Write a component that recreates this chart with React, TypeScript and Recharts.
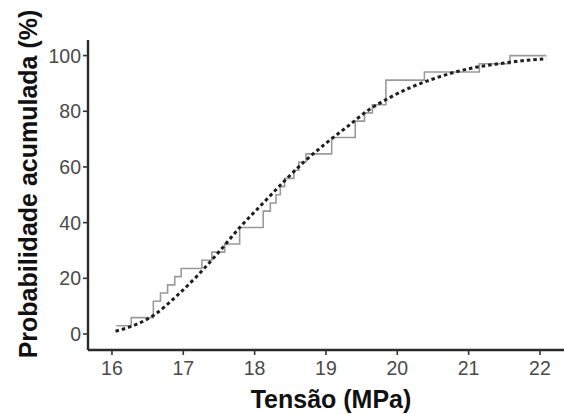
import React from 'react';
import { LineChart, Line, XAxis, YAxis, Label } from 'recharts';

// Tick labels
const xTicks = [16, 17, 18, 19, 20, 21, 22];
const yTicks = [0, 20, 40, 60, 80, 100];

// Empirical cumulative distribution (grey steps)
const ecdfX = [16.06, 16.27, 16.58, 16.68, 16.78, 16.88, 16.97, 17.26, 17.4, 17.58, 17.79, 18.12, 18.22, 18.3, 18.36, 18.42, 18.55, 18.62, 18.72, 19.08, 19.41, 19.54, 19.65, 19.84, 20.38, 21.15, 21.58, 22.09];
const ecdfY = [2.94, 5.88, 11.76, 14.71, 17.65, 20.59, 23.53, 26.47, 29.41, 32.35, 38.24, 44.12, 47.06, 50, 52.94, 55.88, 58.82, 61.76, 64.71, 70.59, 76.47, 79.41, 82.35, 91.18, 94.12, 97.06, 100, 100];

// Fitted cumulative curve (dotted black)
const fitX = [16.05, 16.3, 16.6, 16.9, 17.2, 17.5, 17.8, 18.1, 18.4, 18.7, 19.0, 19.3, 19.6, 19.9, 20.2, 20.5, 20.8, 21.1, 21.4, 21.7, 22.09];
const fitY = [1.0, 3.0, 7.0, 13.5, 21.0, 29.5, 38.5, 46.5, 54.5, 62.0, 68.5, 74.5, 80.5, 85.0, 88.7, 91.6, 94.0, 95.8, 97.0, 98.0, 98.9];

const ecdfData = ecdfX.map((x, i) => ({ x, y: ecdfY[i] }));
const fitData = fitX.map((x, i) => ({ x, y: fitY[i] }));

const xDomain: [number, number] = [15.664, 22.337];
const yDomain: [number, number] = [-5.75, 105.6];

const FONT = '"Liberation Sans", Arial, Helvetica, sans-serif';

export default function App() {
  return (
    <div style={{ position: 'absolute', left: 0, top: 0, width: 564, height: 414, background: '#fff' }}>
      <LineChart width={564} height={414} margin={{ top: 40, right: 0, bottom: 0, left: 0 }}>
        <XAxis
          dataKey="x"
          type="number"
          domain={xDomain}
          ticks={xTicks}
          allowDataOverflow
          height={64}
          axisLine={{ stroke: '#2a2a2a', strokeWidth: 2.4 }}
          tickLine={{ stroke: '#333', strokeWidth: 1.6 }}
          tickSize={5}
          tickMargin={6}
          tick={{ fill: '#4a4a4a', fontSize: 19.5, fontFamily: FONT }}
        >
          <Label
            content={({ viewBox }: any) => (
              <text
                x={viewBox.x + viewBox.width / 2 + 5}
                y={viewBox.y + 49}
                textAnchor="middle"
                dominantBaseline="central"
                fontFamily={FONT}
                fontWeight="bold"
                fontSize={25}
                fill="#111"
              >
                Tensão (MPa)
              </text>
            )}
          />
        </XAxis>
        <XAxis
          xAxisId="top"
          orientation="top"
          type="number"
          domain={xDomain}
          height={0}
          tick={false}
          tickLine={false}
          axisLine={{ stroke: '#2a2a2a', strokeWidth: 2.4 }}
        />
        <YAxis
          type="number"
          domain={yDomain}
          ticks={yTicks}
          allowDataOverflow
          width={88}
          axisLine={{ stroke: '#2a2a2a', strokeWidth: 2.4 }}
          tickLine={{ stroke: '#333', strokeWidth: 1.6 }}
          tickSize={5}
          tickMargin={2}
          tick={{ fill: '#4a4a4a', fontSize: 19.5, fontFamily: FONT }}
        >
          <Label
            content={({ viewBox }: any) => {
              const cx = 28;
              const cy = viewBox.y + viewBox.height / 2 - 11;
              return (
                <text
                  x={cx}
                  y={cy}
                  transform={`rotate(-90 ${cx} ${cy})`}
                  textAnchor="middle"
                  dominantBaseline="central"
                  fontFamily={FONT}
                  fontWeight="bold"
                  fontSize={25}
                  fill="#111"
                >
                  Probabilidade acumulada (%)
                </text>
              );
            }}
          />
        </YAxis>
        <Line
          data={ecdfData}
          dataKey="y"
          type="stepAfter"
          stroke="#9a9a9a"
          strokeWidth={1.6}
          dot={false}
          isAnimationActive={false}
        />
        <Line
          data={fitData}
          dataKey="y"
          type="monotone"
          stroke="#1e1e1e"
          strokeWidth={3}
          strokeDasharray="3.5 3"
          dot={false}
          isAnimationActive={false}
        />
      </LineChart>
    </div>
  );
}
